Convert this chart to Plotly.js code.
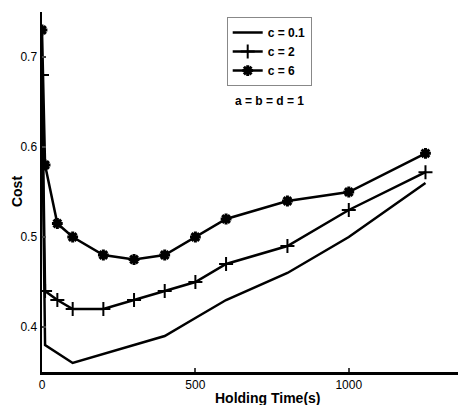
<!DOCTYPE html>
<html>
<head>
<meta charset="utf-8">
<script src="https://cdn.plot.ly/plotly-3.0.1.min.js"></script>
<style>html,body{margin:0;padding:0;background:#fff;}#chart{width:458px;height:405px;}</style>
</head>
<body>
<div id="chart"></div>
<script>
var xLow = [0, 10, 100, 200, 300, 400, 500, 600, 800, 1000, 1250];
var cLow = [0.65, 0.38, 0.36, 0.37, 0.38, 0.39, 0.41, 0.43, 0.46, 0.50, 0.56];
var xMid = [0, 10, 50, 100, 200, 300, 400, 500, 600, 800, 1000, 1250];
var cMid = [0.68, 0.44, 0.43, 0.42, 0.42, 0.43, 0.44, 0.45, 0.47, 0.49, 0.53, 0.572];
var xHigh = [0, 10, 50, 100, 200, 300, 400, 500, 600, 800, 1000, 1250];
var cHigh = [0.73, 0.58, 0.515, 0.50, 0.48, 0.475, 0.48, 0.50, 0.52, 0.54, 0.55, 0.593];
var seriesNames = ['c = 0.1', 'c = 2', 'c = 6'];
var xTicks = [0, 500, 1000];
var yTicks = [0.4, 0.5, 0.6, 0.7];

var traces = [
  {x: xLow, y: cLow, name: seriesNames[0], mode: 'lines', line: {color: '#000', width: 2.5}},
  {x: xMid, y: cMid, name: seriesNames[1], mode: 'lines+markers', line: {color: '#000', width: 2.5},
   marker: {symbol: 'cross-thin-open', size: 10, color: '#000', line: {color: '#000', width: 2}}},
  {x: xHigh, y: cHigh, name: seriesNames[2], mode: 'lines+markers', line: {color: '#000', width: 2.5},
   marker: {symbol: 'asterisk-open', size: 9, color: '#000', line: {color: '#000', width: 3}}}
];

var layout = {
  width: 458, height: 405,
  margin: {l: 42, r: 0, t: 12, b: 33},
  paper_bgcolor: '#fff', plot_bgcolor: '#fff',
  font: {family: 'Liberation Sans, Arial, sans-serif', color: '#000', size: 12},
  showlegend: true,
  legend: {x: 0.444, y: 0.986, xanchor: 'left', yanchor: 'top',
    bordercolor: '#888', borderwidth: 1, bgcolor: '#fff',
    font: {size: 12, family: 'Liberation Sans, Arial, sans-serif', weight: 'bold'},
    tracegroupgap: 0, itemwidth: 30},
  xaxis: {range: [0, 1356], tickvals: xTicks, ticks: 'inside', ticklen: 4, tickwidth: 2,
    showline: true, linewidth: 2.5, linecolor: '#000', showgrid: false, zeroline: false,
    tickfont: {size: 12}},
  yaxis: {range: [0.35, 0.75], tickvals: yTicks, ticks: 'inside', ticklen: 4, tickwidth: 2,
    showline: true, linewidth: 2.5, linecolor: '#000', showgrid: false, zeroline: false,
    tickfont: {size: 12}},
  annotations: [
    {x: 0.548, y: 0.778, xref: 'paper', yref: 'paper', showarrow: false,
     text: 'a = b = d = 1', font: {size: 12, weight: 'bold'}},
    {x: 0.543, y: -0.073, xref: 'paper', yref: 'paper', xanchor: 'center', yanchor: 'middle',
     showarrow: false, text: 'Holding Time(s)', font: {size: 14, weight: 'bold'}},
    {x: -0.060, y: 0.5, xref: 'paper', yref: 'paper', xanchor: 'center', yanchor: 'middle',
     textangle: -90, showarrow: false, text: 'Cost', font: {size: 14, weight: 'bold'}}
  ]
};

Plotly.newPlot('chart', traces, layout, {displayModeBar: false, staticPlot: true});
</script>
</body>
</html>
